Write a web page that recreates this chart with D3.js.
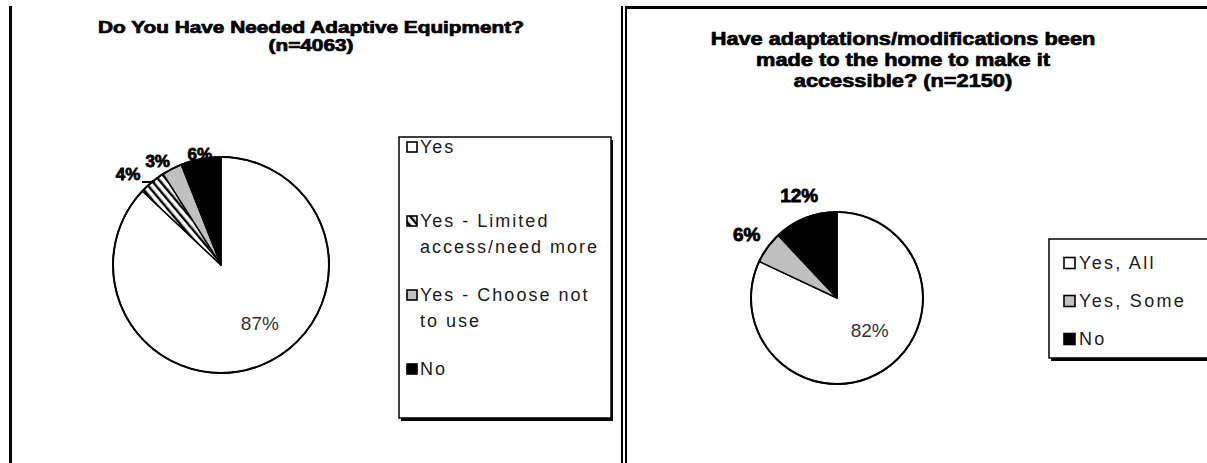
<!DOCTYPE html>
<html>
<head>
<meta charset="utf-8">
<script src="https://cdn.jsdelivr.net/npm/d3@7/dist/d3.min.js"></script>
<style>
  html, body { margin: 0; padding: 0; background: #fff; }
  svg { display: block; }
  text { font-family: "Liberation Sans", Arial, sans-serif; }
</style>
</head>
<body>
<svg id="chart" width="1207" height="463"></svg>
<script>
// --- data ---
const equipTitle = ["Do You Have Needed Adaptive Equipment?", "(n=4063)"];
const equipCategories = ["Yes", "Yes - Limited access/need more", "Yes - Choose not to use", "No"];
const equipValues = [87, 4, 3, 6];

const homeTitle = ["Have adaptations/modifications been", "made to the home to make it", "accessible? (n=2150)"];
const homeCategories = ["Yes, All", "Yes, Some", "No"];
const homeValues = [82, 6, 12];

const fills = ["#ffffff", "url(#hatch)", "#c0c0c0", "#000000"];
const homeFills = ["#ffffff", "#c0c0c0", "#000000"];

const svg = d3.select("#chart");
svg.append("rect").attr("width", 1207).attr("height", 463).attr("fill", "#fff");

// hatch pattern for "Limited access"
const defs = svg.append("defs");
const pat = defs.append("pattern")
    .attr("id", "hatch")
    .attr("patternUnits", "userSpaceOnUse")
    .attr("width", 6).attr("height", 6)
    .attr("patternTransform", "rotate(-40)");
pat.append("rect").attr("width", 6).attr("height", 6).attr("fill", "#fff");
pat.append("rect").attr("width", 2.4).attr("height", 6).attr("fill", "#000");

// panel frames
const frame = svg.append("g").attr("stroke", "#000").attr("fill", "none");
frame.append("line").attr("x1", 10.5).attr("x2", 10.5).attr("y1", 6).attr("y2", 463).attr("stroke-width", 3);
frame.append("line").attr("x1", 622).attr("x2", 622).attr("y1", 6).attr("y2", 463).attr("stroke-width", 2);
frame.append("line").attr("x1", 626).attr("x2", 626).attr("y1", 6).attr("y2", 463).attr("stroke-width", 2);
frame.append("line").attr("x1", 625).attr("x2", 1207).attr("y1", 7.5).attr("y2", 7.5).attr("stroke-width", 3);

function drawTitle(lines, cx, y0, lh, size, sx) {
    svg.append("g")
        .selectAll("text")
        .data(lines)
        .join("text")
        .attr("transform", (d, i) => `translate(${cx},${y0 + i * lh}) scale(${sx},1)`)
        .attr("text-anchor", "middle")
        .attr("font-size", size)
        .attr("font-weight", "bold")
        .attr("fill", "#000")
        .attr("stroke", "#000")
        .attr("stroke-width", 0.7)
        .text(d => d);
}

function drawPie(cfg) {
    const pie = d3.pie().sort(null).value(d => d.value);
    const arcs = pie(cfg.values.map((v, i) => ({value: v, fill: cfg.fills[i]})));
    const arc = d3.arc().innerRadius(0).outerRadius(cfg.r);
    const g = svg.append("g").attr("transform", `translate(${cfg.cx},${cfg.cy})`);

    g.selectAll("path")
        .data(arcs)
        .join("path")
        .attr("d", arc)
        .attr("fill", d => d.data.fill)
        .attr("stroke", "#000")
        .attr("stroke-width", 1.5)
        .attr("stroke-linejoin", "round");
    g.append("circle").attr("r", cfg.r).attr("fill", "none").attr("stroke", "#000").attr("stroke-width", 2);

    const pos = (d, r) => {
        const a = (d.startAngle + d.endAngle) / 2;
        return [Math.sin(a) * r, -Math.cos(a) * r];
    };

    // inside label of the big slice
    const big = arcs[0];
    const p0 = pos(big, cfg.r * cfg.innerFrac);
    g.append("text")
        .attr("x", p0[0] + cfg.innerNudge[0])
        .attr("y", p0[1] + cfg.innerNudge[1])
        .attr("text-anchor", "middle")
        .attr("dominant-baseline", "central")
        .attr("font-size", 19)
        .attr("fill", "#333")
        .text(big.data.value + "%");

    // outside labels
    arcs.slice(1).forEach((d, k) => {
        const nudge = cfg.outerNudge[k] || [0, 0];
        const p = pos(d, cfg.labelR);
        const x = p[0] + nudge[0], y = p[1] + nudge[1];
        g.append("text")
            .attr("transform", `translate(${x},${y}) scale(${cfg.labelSx},1)`)
            .attr("text-anchor", "middle")
            .attr("dominant-baseline", "central")
            .attr("font-size", cfg.labelSize)
            .attr("font-weight", "bold")
            .attr("fill", "#000")
            .attr("stroke", "#000")
            .attr("stroke-width", 0.8)
            .text(d.data.value + "%");
        if (cfg.leader[k]) {
            const e = pos(d, cfg.r + 1);
            g.append("polyline")
                .attr("points", [[x + 14, y + 7], [x + 27, y + 7], e].map(q => q.join(",")).join(" "))
                .attr("fill", "none")
                .attr("stroke", "#000")
                .attr("stroke-width", 2);
        }
    });
}

function drawLegend(cfg) {
    const g = svg.append("g");
    g.append("rect")
        .attr("x", cfg.x + 2).attr("y", cfg.y + 3)
        .attr("width", cfg.w).attr("height", cfg.h)
        .attr("fill", "#000");
    g.append("rect")
        .attr("x", cfg.x).attr("y", cfg.y)
        .attr("width", cfg.w).attr("height", cfg.h)
        .attr("fill", "#fff").attr("stroke", "#000").attr("stroke-width", 1.5);

    cfg.labels.forEach((label, i) => {
        const y = cfg.firstY + i * cfg.step;
        g.append("rect")
            .attr("x", cfg.x + cfg.swatchDx).attr("y", y - cfg.swatch / 2)
            .attr("width", cfg.swatch).attr("height", cfg.swatch)
            .attr("fill", cfg.fills[i])
            .attr("stroke", "#000").attr("stroke-width", 1.6);
        const t = g.append("text")
            .attr("font-size", 18)
            .attr("letter-spacing", cfg.spacing)
            .attr("fill", "#1a1a1a");
        // simple word wrap
        const words = label.split(" ");
        const tx = cfg.x + cfg.textDx;
        let line = [], row = 0;
        let ts = t.append("tspan").attr("x", tx).attr("y", y).attr("dominant-baseline", "central");
        words.forEach(w => {
            line.push(w);
            ts.text(line.join(" "));
            if (ts.node().getComputedTextLength() > cfg.maxW && line.length > 1) {
                line.pop();
                ts.text(line.join(" "));
                line = [w];
                row += 1;
                ts = t.append("tspan").attr("x", tx).attr("y", y + row * cfg.lineH)
                    .attr("dominant-baseline", "central").text(w);
            }
        });
    });
}

// --- left chart ---
drawTitle(equipTitle, 311, 33, 18, 16, 1.3);
drawPie({
    values: equipValues, fills: fills,
    cx: 221, cy: 265, r: 108,
    innerFrac: 0.65, innerNudge: [11, -6],
    labelR: 113, labelSize: 17, labelSx: 1.0,
    outerNudge: [[-21, -3], [-12, -3], [0, 0]],
    leader: [true, false, false]
});
drawLegend({
    x: 399, y: 137, w: 212, h: 281,
    labels: equipCategories, fills: fills,
    firstY: 147, step: 74, lineH: 26, maxW: 188,
    swatch: 10, swatchDx: 8, textDx: 21, spacing: 2.0
});

// --- right chart ---
drawTitle(homeTitle, 903, 45, 21, 18, 1.21);
drawPie({
    values: homeValues, fills: homeFills,
    cx: 837, cy: 298, r: 86,
    innerFrac: 0.58, innerNudge: [6, -10],
    labelR: 108, labelSize: 19, labelSx: 1.0,
    outerNudge: [[-3, 0], [2, -2]],
    leader: [false, false]
});
drawLegend({
    x: 1049, y: 239, w: 170, h: 119,
    labels: homeCategories, fills: homeFills,
    firstY: 263, step: 38, lineH: 26, maxW: 200,
    swatch: 11, swatchDx: 15, textDx: 30, spacing: 2.3
});
</script>
</body>
</html>
